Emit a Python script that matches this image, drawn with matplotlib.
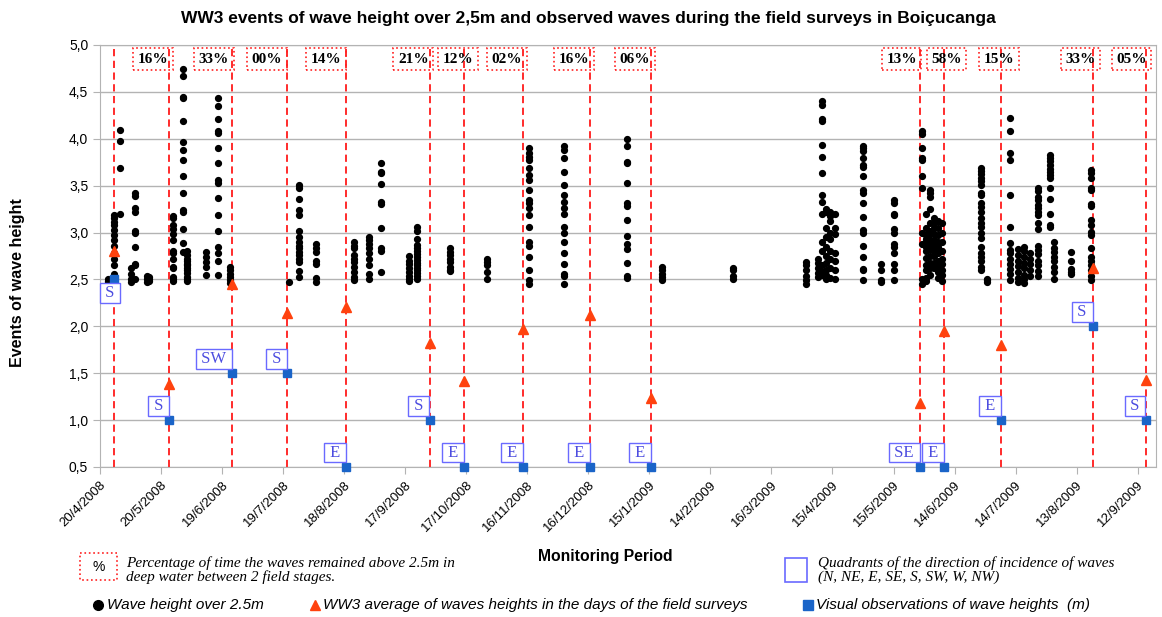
import matplotlib
matplotlib.use('Agg')
import matplotlib.pyplot as plt
import matplotlib.ticker as mticker
import matplotlib.dates as mdates
from matplotlib.patches import Rectangle
import pandas as pd

plt.rcParams['font.family'] = ['Liberation Sans', 'DejaVu Sans']

# black dots: one column of WW3 wave heights (> 2.5 m) per date
wave_dates = [
    '2008-04-24', '2008-04-27', '2008-04-30', '2008-05-05', '2008-05-07', '2008-05-13',
    '2008-05-14', '2008-05-26', '2008-05-31', '2008-06-02', '2008-06-11', '2008-06-17',
    '2008-06-23', '2008-07-22', '2008-07-27', '2008-08-04', '2008-08-23', '2008-08-30',
    '2008-09-05', '2008-09-19', '2008-09-23', '2008-10-09', '2008-10-27', '2008-11-17',
    '2008-12-04', '2009-01-04', '2009-01-21', '2009-02-25', '2009-04-02', '2009-04-08',
    '2009-04-10', '2009-04-12', '2009-04-14', '2009-04-16', '2009-04-30', '2009-05-09',
    '2009-05-15', '2009-05-29', '2009-05-31', '2009-06-02', '2009-06-04', '2009-06-06',
    '2009-06-08', '2009-06-27', '2009-06-30', '2009-07-11', '2009-07-15', '2009-07-18',
    '2009-07-21', '2009-07-25', '2009-07-31', '2009-08-02', '2009-08-10', '2009-08-20',
]
wave_heights = [
    [2.48, 2.50, 2.47],
    [3.19, 3.15, 3.11, 3.08, 3.03, 2.97, 2.92, 2.86, 2.78, 2.72, 2.65, 2.56, 2.50],
    [4.09, 3.98, 3.69, 3.20],
    [2.62, 2.56, 2.50, 2.47],
    [3.42, 3.39, 3.26, 3.22, 3.02, 2.99, 2.85, 2.67, 2.65, 2.50],
    [2.54, 2.50, 2.47],
    [2.53, 2.50, 2.48],
    [3.18, 3.16, 3.08, 3.04, 2.98, 2.92, 2.80, 2.78, 2.72, 2.63, 2.62, 2.53, 2.50, 2.48],
    [4.74, 4.67, 4.45, 4.43, 4.19, 3.97, 3.88, 3.77, 3.60, 3.42, 3.24, 3.22, 3.04, 2.89, 2.79],
    [2.80, 2.76, 2.72, 2.70, 2.67, 2.65, 2.62, 2.60, 2.57, 2.53, 2.50, 2.48],
    [2.79, 2.74, 2.69, 2.63, 2.55],
    [4.43, 4.35, 4.21, 4.08, 4.06, 3.90, 3.74, 3.56, 3.53, 3.37, 3.19, 3.02, 2.85, 2.78, 2.70, 2.55],
    [2.63, 2.60, 2.56, 2.53, 2.49, 2.46],
    [2.47],
    [3.51, 3.48, 3.36, 3.24, 3.19, 3.02, 2.95, 2.90, 2.86, 2.83, 2.79, 2.76, 2.72, 2.69, 2.59, 2.53],
    [2.88, 2.84, 2.79, 2.70, 2.67, 2.52, 2.47],
    [2.90, 2.86, 2.83, 2.76, 2.72, 2.69, 2.63, 2.58, 2.53, 2.49],
    [2.95, 2.92, 2.88, 2.83, 2.78, 2.72, 2.65, 2.56, 2.50],
    [3.74, 3.65, 3.63, 3.52, 3.33, 3.30, 3.05, 2.83, 2.80, 2.58],
    [2.75, 2.70, 2.66, 2.62, 2.58, 2.54, 2.50, 2.48],
    [3.06, 3.02, 2.93, 2.87, 2.83, 2.80, 2.77, 2.74, 2.71, 2.68, 2.65, 2.62, 2.60, 2.57, 2.54, 2.50],
    [2.83, 2.79, 2.76, 2.72, 2.69, 2.63, 2.60, 2.59],
    [2.72, 2.69, 2.65, 2.58, 2.50],
    [3.90, 3.85, 3.81, 3.77, 3.69, 3.61, 3.56, 3.45, 3.35, 3.31, 3.26, 3.19, 3.06, 2.90, 2.86, 2.74, 2.60, 2.49, 2.45],
    [3.92, 3.88, 3.79, 3.65, 3.51, 3.40, 3.33, 3.26, 3.20, 3.06, 3.00, 2.90, 2.78, 2.67, 2.56, 2.54, 2.45],
    [4.00, 3.92, 3.75, 3.74, 3.53, 3.32, 3.28, 3.13, 2.96, 2.88, 2.82, 2.68, 2.54, 2.52],
    [2.63, 2.60, 2.56, 2.53, 2.49],
    [2.62, 2.60, 2.54, 2.51],
    [2.69, 2.65, 2.60, 2.54, 2.49, 2.45],
    [2.72, 2.68, 2.62, 2.57, 2.53],
    [4.40, 4.36, 4.21, 4.19, 3.93, 3.81, 3.63, 3.40, 3.33, 3.20, 2.90, 2.80, 2.65, 2.58, 2.55],
    [3.25, 3.22, 3.05, 2.95, 2.85, 2.75, 2.68, 2.60, 2.55, 2.50],
    [3.22, 3.18, 3.12, 3.00, 2.93, 2.80, 2.72, 2.62, 2.52],
    [3.20, 3.05, 2.98, 2.78, 2.70, 2.60, 2.50],
    [3.92, 3.90, 3.87, 3.79, 3.72, 3.70, 3.60, 3.45, 3.42, 3.31, 3.17, 3.03, 3.00, 2.86, 2.74, 2.61, 2.60, 2.49],
    [2.67, 2.60, 2.49, 2.47],
    [3.35, 3.31, 3.20, 3.19, 3.04, 3.00, 2.88, 2.85, 2.78, 2.67, 2.60, 2.49],
    [4.08, 4.05, 3.90, 3.79, 3.77, 3.60, 3.47, 3.00, 2.88, 2.50, 2.45],
    [3.20, 3.05, 2.97, 2.93, 2.90, 2.85, 2.80, 2.73, 2.65, 2.60, 2.52, 2.48],
    [3.45, 3.42, 3.38, 3.25, 3.10, 3.02, 2.98, 2.92, 2.88, 2.82, 2.75, 2.68, 2.62, 2.55],
    [3.15, 3.10, 3.05, 2.98, 2.92, 2.86, 2.80, 2.75, 2.68, 2.62],
    [3.12, 3.05, 2.97, 2.90, 2.85, 2.78, 2.70, 2.64, 2.58, 2.52],
    [3.10, 3.00, 2.90, 2.80, 2.72, 2.66, 2.60, 2.55, 2.48],
    [3.69, 3.66, 3.62, 3.58, 3.55, 3.51, 3.42, 3.40, 3.31, 3.27, 3.22, 3.15, 3.10, 3.06, 2.99, 2.94, 2.85, 2.78, 2.74, 2.70, 2.63, 2.60],
    [2.50, 2.49, 2.47],
    [4.22, 4.08, 3.85, 3.77, 3.40, 3.06, 2.89, 2.81, 2.78, 2.72, 2.67, 2.61, 2.56, 2.49],
    [2.82, 2.76, 2.70, 2.64, 2.58, 2.52, 2.47],
    [2.85, 2.80, 2.74, 2.68, 2.62, 2.55, 2.50, 2.46],
    [2.78, 2.72, 2.66, 2.60, 2.54],
    [3.47, 3.44, 3.38, 3.35, 3.29, 3.26, 3.22, 3.19, 3.10, 3.04, 2.86, 2.81, 2.77, 2.70, 2.65, 2.59, 2.54],
    [3.83, 3.80, 3.76, 3.72, 3.68, 3.65, 3.61, 3.58, 3.47, 3.36, 3.20, 3.08, 3.06],
    [2.90, 2.84, 2.79, 2.74, 2.70, 2.63, 2.58, 2.50],
    [2.79, 2.70, 2.61, 2.58, 2.56],
    [3.67, 3.63, 3.58, 3.47, 3.45, 3.30, 3.28, 3.13, 3.08, 3.01, 2.97, 2.83, 2.74, 2.70, 2.65, 2.60, 2.54, 2.49],
]

# field surveys
survey_dates = ['2008-04-27', '2008-05-24', '2008-06-24', '2008-07-21', '2008-08-19',
                '2008-09-29', '2008-10-16', '2008-11-14', '2008-12-17', '2009-01-16',
                '2009-05-28', '2009-06-09', '2009-07-07', '2009-08-21', '2009-09-16']
ww3_average = [2.80, 1.38, 2.45, 2.14, 2.21, 1.82, 1.42, 1.97, 2.12, 1.24,
               1.18, 1.95, 1.80, 2.62, 1.43]
visual_obs = [2.5, 1.0, 1.5, 1.5, 0.5, 1.0, 0.5, 0.5, 0.5, 0.5,
              0.5, 0.5, 1.0, 2.0, 1.0]
directions = ['S', 'S', 'SW', 'S', 'E', 'S', 'E', 'E', 'E', 'E', 'SE', 'E', 'E', 'S', 'S']

# % of time above 2.5m between two field stages
pct_labels = ['16%', '33%', '00%', '14%', '21%', '12%', '02%', '16%', '06%',
              '13%', '58%', '15%', '33%', '05%']
pct_label_dates = ['2008-05-16', '2008-06-15', '2008-07-11', '2008-08-09', '2008-09-21',
                   '2008-10-13', '2008-11-06', '2008-12-09', '2009-01-08',
                   '2009-05-19', '2009-06-10', '2009-07-06', '2009-08-15', '2009-09-09']

# expand dot columns
dot_x = []
dot_y = []
for d, hs in zip(wave_dates, wave_heights):
    for h in hs:
        dot_x.append(pd.Timestamp(d))
        dot_y.append(h)

surveys = pd.to_datetime(survey_dates)

fig = plt.figure(figsize=(11.62, 6.17), dpi=100)
ax = fig.add_axes([100 / 1162, 1 - 467 / 617, 1056 / 1162, 422 / 617])

grey = '#b3b3b3'
ax.set_ylim(0.5, 5.0)
ax.set_xlim(pd.Timestamp('2008-04-20'), pd.Timestamp('2009-09-21'))
ax.yaxis.set_major_locator(mticker.MultipleLocator(0.5))
ax.yaxis.set_major_formatter(mticker.FuncFormatter(lambda v, p: f'{v:.1f}'.replace('.', ',')))
ax.grid(axis='y', color=grey, lw=1)
ax.set_axisbelow(True)
for s in ax.spines.values():
    s.set_color(grey)

ticks = pd.date_range('2008-04-20', periods=18, freq='30D')
ax.set_xticks(ticks)
ax.xaxis.set_major_formatter(mticker.FuncFormatter(
    lambda v, p: f'{mdates.num2date(v).day}/{mdates.num2date(v).month}/{mdates.num2date(v).year}'))
plt.setp(ax.get_xticklabels(), rotation=45, ha='right', rotation_mode='anchor', fontsize=9.5)
plt.setp(ax.get_yticklabels(), fontsize=10)
ax.tick_params(axis='both', color=grey, length=5)

# survey lines
for d in surveys:
    ax.axvline(d, color='#ff1a1a', ls=(0, (4, 2.5)), lw=1.3, zorder=2)

ax.plot(dot_x, dot_y, 'o', color='black', ms=4.2, zorder=3)
ax.plot(surveys, ww3_average, '^', color='#ff420e', ms=6.5, zorder=4)
ax.plot(surveys, visual_obs, 's', color='#1a64c8', ms=6, clip_on=False, zorder=5)

# direction boxes
for i, (d, v, lab) in enumerate(zip(surveys, visual_obs, directions)):
    if i == 0:
        off, ha, va = (-3, -4), 'center', 'top'
    else:
        off, ha, va = (-1.5, 4.5), 'right', 'bottom'
    ax.annotate(' ' + lab + ' ', (d, v), xytext=off, textcoords='offset points', ha=ha, va=va,
                fontsize=12, family='Liberation Serif', color='#4d4de0', zorder=6,
                bbox=dict(boxstyle='square,pad=0.1', fc='white', ec='#6a6aff', lw=1))

# percentage boxes
for d, lab in zip(pd.to_datetime(pct_label_dates), pct_labels):
    ax.text(d, 4.85, lab, ha='center', va='center', fontsize=11, fontweight='bold',
            family='Liberation Serif', zorder=6,
            bbox=dict(boxstyle='square,pad=0.3', fc='none', ec='#ff2020', ls=':', lw=1.2))

fig.text(588 / 1162, 1 - 18 / 617, 'WW3 events of wave height over 2,5m and observed waves '
         'during the field surveys in Boiçucanga', ha='center', va='center',
         fontsize=12.5, fontweight='bold')
fig.text(18 / 1162, 1 - 283 / 617, 'Events of wave height', rotation=90, ha='center',
         va='center', fontsize=11.5, fontweight='bold')
fig.text(605 / 1162, 1 - 557 / 617, 'Monitoring Period', ha='center', va='center',
         fontsize=11.3, fontweight='bold')

# legend area in pixel coordinates
lg = fig.add_axes([0, 0, 1, 1])
lg.set_xlim(0, 1162)
lg.set_ylim(617, 0)
lg.axis('off')
lg.add_patch(Rectangle((80, 553), 37, 27, fc='none', ec='#ff2020', ls=':', lw=1.2))
lg.text(98.5, 567, '%', ha='center', va='center', fontsize=10)
lg.text(126, 570, 'Percentage of time the waves remained above 2.5m in\ndeep water between 2 field stages.',
        ha='left', va='center', fontsize=11, style='italic', family='Liberation Serif',
        linespacing=1.05)
lg.add_patch(Rectangle((785, 558), 22, 24, fc='none', ec='#6a6aff', lw=1.2))
lg.text(818, 570, 'Quadrants of the direction of incidence of waves\n(N, NE, E, SE, S, SW, W, NW)',
        ha='left', va='center', fontsize=11, style='italic', family='Liberation Serif',
        linespacing=1.05)
lg.plot([98], [605], 'o', color='black', ms=7)
lg.text(107, 605, 'Wave height over 2.5m', ha='left', va='center', fontsize=11, style='italic')
lg.plot([315], [605], '^', color='#ff420e', ms=7)
lg.text(323, 605, 'WW3 average of waves heights in the days of the field surveys',
        ha='left', va='center', fontsize=11, style='italic')
lg.plot([808], [605], 's', color='#1a64c8', ms=7)
lg.text(816, 605, 'Visual observations of wave heights  (m)', ha='left', va='center',
        fontsize=11, style='italic')

fig.savefig('out.png', dpi=100)
